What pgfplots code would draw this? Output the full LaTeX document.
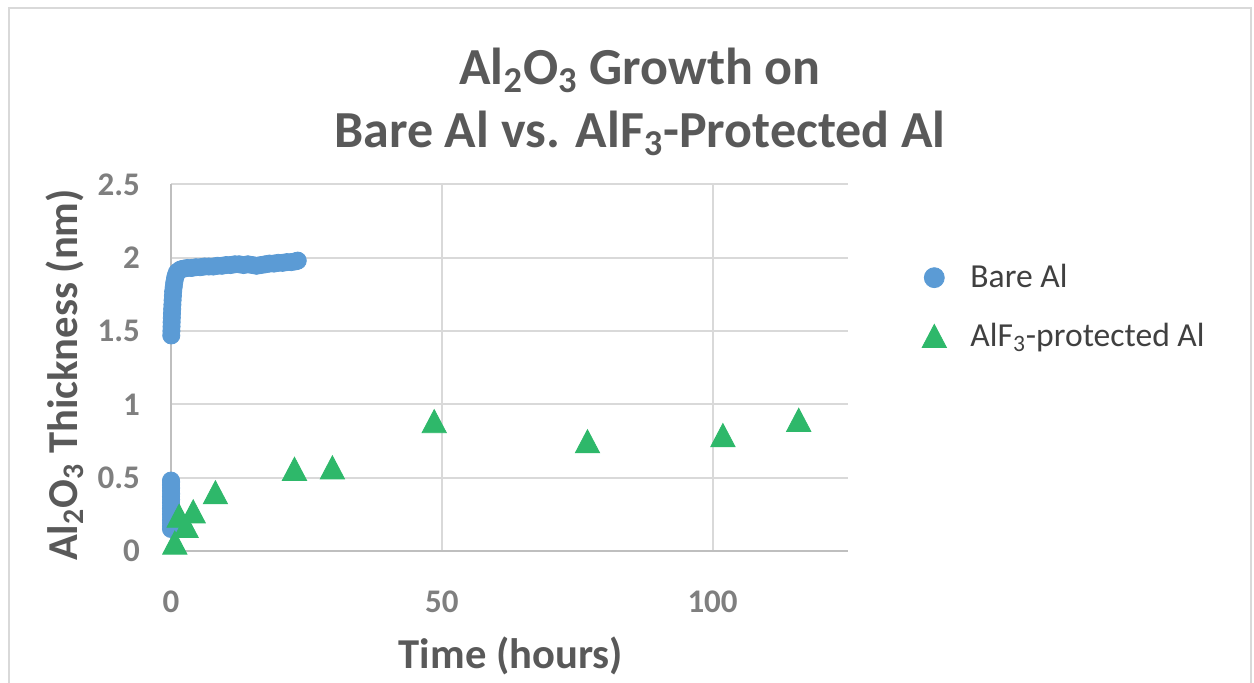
\documentclass[border=0pt]{standalone}
\usepackage{fontspec}
\setmainfont{Carlito}
\usepackage{pgfplots}
\pgfplotsset{compat=1.18}
\definecolor{bareblue}{HTML}{5B9BD5}
\definecolor{alfgreen}{HTML}{2EB86A}
\definecolor{gridgray}{HTML}{D9D9D9}
\definecolor{axisgray}{HTML}{BFBFBF}
\definecolor{titlegray}{HTML}{595959}
\definecolor{tickgray}{HTML}{7F7F7F}
\definecolor{legtext}{HTML}{404040}
\begin{document}
\begin{tikzpicture}
\useasboundingbox (0,0) rectangle (627pt,341.5pt);
\draw[color=gridgray, line width=1pt] (4.5pt,-1pt) -- (4.5pt,337.5pt) -- (625.5pt,337.5pt) -- (625.5pt,-1pt);
\node[anchor=base, font=\fontsize{26}{30}\selectfont\bfseries, text=titlegray] at (320pt,299pt) {Al\textsubscript{2}O\textsubscript{3} Growth on};
\node[anchor=base, font=\fontsize{26}{30}\selectfont\bfseries, text=titlegray] at (320pt,267.5pt) {Bare Al vs. AlF\textsubscript{3}-Protected Al};
\begin{axis}[
  at={(85.5pt,66pt)}, anchor=south west,
  scale only axis, width=338.5pt, height=183.3pt,
  xmin=0, xmax=125, ymin=0, ymax=2.5,
  xtick={0,50,100}, ytick={0,0.5,1,1.5,2,2.5},
  axis lines=left, axis line style={-, color=axisgray, line width=1pt},
  major tick length=0pt,
  grid=major, grid style={color=gridgray, line width=0.9pt},
  /pgf/number format/assume math mode=true,
  tick label style={font=\fontsize{16.5}{18}\selectfont\bfseries, text=tickgray},
  yticklabel style={anchor=east, xshift=-12pt},
  xticklabel style={anchor=center, yshift=-25.5pt},
  xlabel={Time (hours)},
  ylabel={Al\textsubscript{2}O\textsubscript{3} Thickness (nm)},
  label style={font=\fontsize{21.3}{24}\selectfont\bfseries, text=titlegray},
  xlabel style={at={(axis description cs:0.502,-0.286)}, anchor=center},
  ylabel style={at={(axis description cs:-0.1566,0.48)}, anchor=center},
  legend style={at={(axis description cs:1.109,0.666)}, anchor=west, draw=none, fill=none,
    font=\fontsize{16.8}{18}\selectfont, text=legtext, inner sep=0pt, row sep=12pt,
    /tikz/every odd column/.append style={column sep=10pt}},
  legend cell align=left,
  clip=false,
]
\addplot[only marks, mark=*, mark size=4.3pt, color=bareblue, mark options={fill=bareblue, draw=bareblue},
  legend image post style={mark size=5pt}] coordinates {
(0,0.15) (0,0.17) (0.02,0.19) (0,0.21) (0.03,0.23) (0,0.25) (0.02,0.27) (0,0.29) (0.03,0.31) (0,0.33)
(0.02,0.35) (0,0.37) (0.03,0.39) (0,0.41) (0.02,0.43) (0,0.45) (0.02,0.47) (0,0.48)
(0.05,1.47) (0.08,1.50) (0.1,1.53) (0.12,1.56) (0.15,1.59) (0.18,1.62) (0.22,1.65) (0.26,1.68)
(0.3,1.71) (0.35,1.74) (0.4,1.77) (0.5,1.80) (0.6,1.83) (0.75,1.86) (0.9,1.88) (1.1,1.90)
(1.4,1.91) (1.8,1.92) (2.3,1.925) (3,1.93) (3.8,1.93) (4.6,1.935) (5.4,1.935) (6.2,1.94)
(7,1.94) (7.8,1.94) (8.6,1.945) (9.4,1.945) (10.2,1.95) (11,1.95) (11.8,1.955) (12.6,1.955)
(13.4,1.95) (14.2,1.955) (15,1.95) (15.8,1.945) (16.6,1.95) (17.4,1.955) (18.2,1.96) (19,1.96)
(19.8,1.965) (20.6,1.965) (21.4,1.97) (22.2,1.97) (23,1.975) (23.4,1.98)
};
\addlegendentry{Bare Al}
\addplot[only marks, mark=triangle*, mark size=7pt, color=alfgreen, mark options={fill=alfgreen, draw=alfgreen, yshift=-1.9pt, yscale=1.1}] coordinates {
(0.7,0.057) (1.5,0.24) (2.8,0.17) (4.1,0.27) (8.2,0.40) (22.8,0.56) (29.8,0.57)
(48.6,0.885) (76.9,0.748) (101.9,0.79) (115.9,0.894)
};
\addlegendentry{AlF\textsubscript{3}-protected Al}
\end{axis}
\end{tikzpicture}
\end{document}
